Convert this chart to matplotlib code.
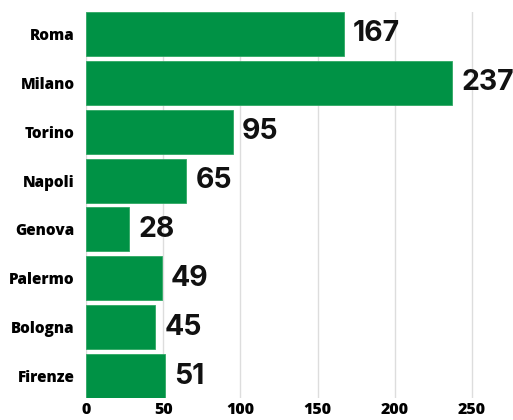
import matplotlib.pyplot as plt

# city counts
cities = ['Roma', 'Milano', 'Torino', 'Napoli', 'Genova', 'Palermo', 'Bologna', 'Firenze']
values = [167, 237, 95, 65, 28, 49, 45, 51]
xticks = [0, 50, 100, 150, 200, 250]

fig = plt.figure(figsize=(5.13, 4.2), dpi=100)
ax = fig.add_axes([86 / 513, 22 / 420, 427 / 513, 386 / 420])

ypos = list(range(len(cities)))
ax.barh(ypos, values, height=0.9, color='#009245', edgecolor='#2fa864', linewidth=0.6, zorder=2)

for y, v in zip(ypos, values):
    ax.annotate(str(v), (v, y), xytext=(6.5, 0), textcoords='offset points',
                va='center', ha='left', fontsize=20.5, fontweight='bold',
                family='Inter', color='#111111')

ax.set_xlim(0, 276.5)
ax.set_ylim(len(cities) - 0.55, -0.45)
ax.set_yticks(ypos)
ax.set_yticklabels(cities, fontsize=11, fontweight='heavy', family='Open Sans')
ax.set_xticks(xticks)
ax.set_xticklabels([str(t) for t in xticks], fontsize=11.5, fontweight='heavy', family='Open Sans')
ax.tick_params(length=0, pad=8)
ax.tick_params(axis='x', pad=3)
for s in ax.spines.values():
    s.set_visible(False)
ax.grid(axis='x', color='#dddddd', linewidth=1, zorder=0)
ax.set_axisbelow(True)

fig.savefig('out.png', dpi=100)
